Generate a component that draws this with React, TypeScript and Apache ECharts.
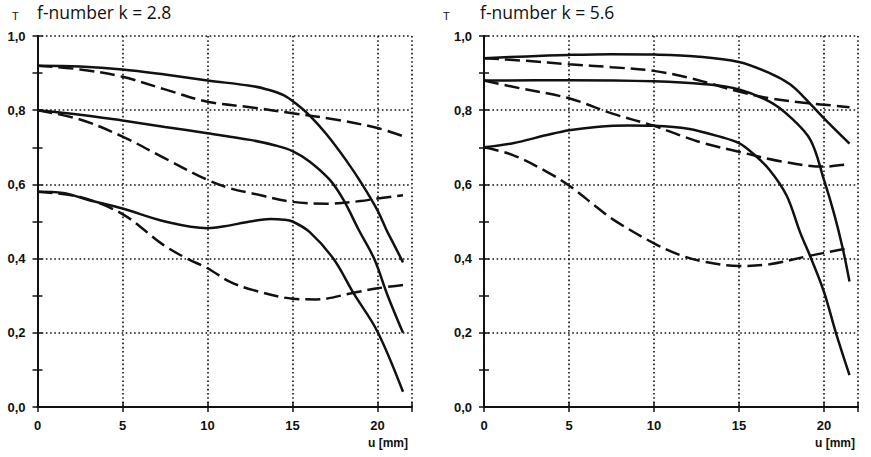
import React, { useEffect, useRef } from "react";
import * as echarts from "echarts";

// ---- data (u in mm, T) ----
const leftTitle = "f-number k = 2.8";
const rightTitle = "f-number k = 5.6";
const xTicks = [0, 5, 10, 15, 20];
const yTicks = [0, 0.2, 0.4, 0.6, 0.8, 1.0];

// k = 2.8
const leftSolid1 = [[0, 0.92], [2.5, 0.918], [5, 0.91], [7.5, 0.896], [10, 0.88], [12.5, 0.866], [13.5, 0.856], [14.5, 0.84], [15.2, 0.818], [16, 0.786], [17, 0.735], [18.2, 0.662], [19.1, 0.6], [20, 0.53], [20.5, 0.48], [21, 0.435], [21.5, 0.39]];
const leftDash1 = [[0, 0.92], [2.5, 0.91], [5, 0.89], [7.5, 0.856], [10, 0.823], [12.5, 0.808], [15, 0.792], [17.5, 0.775], [20, 0.752], [21.5, 0.73]];
const leftSolid2 = [[0, 0.8], [2.5, 0.788], [5, 0.772], [7.5, 0.755], [10, 0.738], [12.5, 0.72], [14, 0.705], [15, 0.69], [16, 0.662], [17.2, 0.612], [18, 0.558], [18.9, 0.477], [19.8, 0.4], [20.6, 0.3], [21.5, 0.2]];
const leftDash2 = [[0, 0.8], [2.5, 0.775], [5, 0.729], [7.5, 0.67], [10, 0.612], [11.3, 0.59], [12.7, 0.575], [15, 0.553], [17, 0.548], [19, 0.555], [20, 0.562], [21.5, 0.571]];
const leftSolid3 = [[0, 0.58], [1.5, 0.577], [3, 0.558], [5, 0.535], [7.5, 0.5], [10, 0.482], [11, 0.487], [12.5, 0.5], [13.7, 0.507], [14.5, 0.505], [15, 0.5], [16, 0.472], [17.4, 0.4], [18.6, 0.306], [20, 0.203], [21.5, 0.041]];
const leftDash3 = [[0, 0.58], [2.5, 0.566], [5, 0.52], [7.4, 0.437], [8.8, 0.4], [10, 0.374], [11.3, 0.338], [12.7, 0.315], [15, 0.292], [16.4, 0.29], [18.6, 0.308], [20, 0.32], [21.5, 0.329]];

// k = 5.6
const rightSolidA = [[0, 0.94], [2.5, 0.945], [5, 0.949], [7.5, 0.951], [10, 0.95], [12.5, 0.945], [15, 0.93], [16.8, 0.9], [18, 0.87], [18.8, 0.836], [20, 0.778], [21.5, 0.71]];
const rightDashA = [[0, 0.94], [2.5, 0.933], [5, 0.924], [7.5, 0.916], [10, 0.906], [12, 0.888], [13, 0.876], [15, 0.85], [16.8, 0.832], [18.8, 0.82], [20, 0.815], [21.5, 0.808]];
const rightSolidB = [[0, 0.88], [5, 0.881], [10, 0.878], [13, 0.87], [15, 0.856], [16.8, 0.823], [18, 0.782], [19.2, 0.72], [20, 0.612], [20.6, 0.52], [21.1, 0.428], [21.5, 0.338]];
const rightDashB = [[0, 0.88], [1.7, 0.863], [5, 0.832], [7.6, 0.79], [10, 0.758], [11.5, 0.733], [13, 0.71], [15, 0.688], [17.5, 0.662], [20, 0.648], [21, 0.652], [21.5, 0.658]];
const rightSolidC = [[0, 0.7], [1.7, 0.711], [3.7, 0.733], [5, 0.746], [6.6, 0.755], [8.5, 0.759], [10, 0.758], [12, 0.75], [14, 0.727], [15, 0.711], [15.8, 0.684], [16.8, 0.639], [17.8, 0.57], [18.6, 0.47], [19.2, 0.405], [20, 0.31], [20.7, 0.2], [21.5, 0.086]];
const rightDashC = [[0, 0.7], [1.7, 0.679], [3.7, 0.634], [5, 0.597], [6.6, 0.54], [7.6, 0.505], [10, 0.441], [11.5, 0.41], [12.9, 0.392], [15, 0.38], [16.8, 0.385], [19.2, 0.408], [21.1, 0.425], [21.5, 0.428]];

const INK = "#111";
const LABEL_FONT = "Liberation Sans";
const TITLE_FONT = "Open Sans";

function xAxisDef(gridIndex: number, position: "bottom" | "top") {
  const bottom = position === "bottom";
  return {
    type: "value",
    gridIndex,
    position,
    min: 0,
    max: 22,
    interval: 5,
    axisLine: { show: true, lineStyle: { color: INK, width: 2 } },
    axisTick: { show: true, inside: true, length: 5, lineStyle: { color: INK, width: 1.5 } },
    axisLabel: {
      show: bottom,
      margin: 12,
      color: INK,
      fontFamily: LABEL_FONT,
      fontWeight: "bold",
      fontSize: 13,
      formatter: (v: number) => (xTicks.includes(v) ? String(v) : ""),
    },
    splitLine: bottom
      ? { show: true, lineStyle: { color: INK, width: 1.6, type: [1.6, 2.6] } }
      : { show: false },
  };
}

function yAxisDef(gridIndex: number, position: "left" | "right") {
  const left = position === "left";
  return {
    type: "value",
    gridIndex,
    position,
    min: 0,
    max: 1,
    interval: 0.2,
    axisLine: { show: true, lineStyle: { color: INK, width: 2 } },
    axisTick: { show: true, inside: true, length: 5, lineStyle: { color: INK, width: 1.5 } },
    minorTick: { show: true, splitNumber: 2, length: 5, lineStyle: { color: INK, width: 1.5 } },
    minorSplitLine: { show: false },
    axisLabel: {
      show: left,
      margin: 12,
      color: INK,
      fontFamily: LABEL_FONT,
      fontWeight: "bold",
      fontSize: 13,
      formatter: (v: number) => {
        const t = yTicks.find((y) => Math.abs(y - v) < 1e-6);
        return t === undefined ? "" : t.toFixed(1).replace(".", ",");
      },
    },
    splitLine: left
      ? { show: true, lineStyle: { color: INK, width: 1.6, type: [1.6, 2.6] } }
      : { show: false },
  };
}

function line(data: number[][], dashed: boolean, axis: number) {
  return {
    type: "line",
    xAxisIndex: axis,
    yAxisIndex: axis,
    data,
    smooth: 0.35,
    showSymbol: false,
    symbol: "none",
    lineStyle: { color: INK, width: 2.5, type: dashed ? [15, 6] : "solid" },
    z: 5,
  };
}

export default function App() {
  const ref = useRef<HTMLDivElement>(null);
  useEffect(() => {
    if (!ref.current) return;
    const chart = echarts.init(ref.current, undefined, { renderer: "svg" });
    const titleBlock = (xT: number, xTitle: number, text: string) => [
      {
        type: "text",
        left: xT,
        top: 10,
        style: { text: "T", fontFamily: LABEL_FONT, fontSize: 11, fill: INK },
      },
      {
        type: "text",
        left: xTitle,
        top: 3,
        style: { text, fontFamily: TITLE_FONT, fontSize: 17.5, fill: INK },
      },
    ];
    const unitLabel = (right: number) => ({
      type: "text",
      right,
      top: 437,
      style: { text: "u [mm]", fontFamily: LABEL_FONT, fontWeight: "bold", fontSize: 12, fill: INK },
    });
    chart.setOption({
      animation: false,
      backgroundColor: "#fff",
      grid: [
        { left: 37.5, top: 36, width: 374, height: 371, show: false },
        { left: 484, top: 36, width: 374, height: 371, show: false },
      ],
      xAxis: [xAxisDef(0, "bottom"), xAxisDef(0, "top"), xAxisDef(1, "bottom"), xAxisDef(1, "top")],
      yAxis: [yAxisDef(0, "left"), yAxisDef(0, "right"), yAxisDef(1, "left"), yAxisDef(1, "right")],
      series: [
        line(leftSolid1, false, 0),
        line(leftDash1, true, 0),
        line(leftSolid2, false, 0),
        line(leftDash2, true, 0),
        line(leftSolid3, false, 0),
        line(leftDash3, true, 0),
        { ...line(rightSolidA, false, 2), yAxisIndex: 2 },
        { ...line(rightDashA, true, 2), yAxisIndex: 2 },
        { ...line(rightSolidB, false, 2), yAxisIndex: 2 },
        { ...line(rightDashB, true, 2), yAxisIndex: 2 },
        { ...line(rightSolidC, false, 2), yAxisIndex: 2 },
        { ...line(rightDashC, true, 2), yAxisIndex: 2 },
      ],
      graphic: [
        ...titleBlock(12, 37, leftTitle),
        ...titleBlock(443, 480, rightTitle),
        unitLabel(463),
        unitLabel(16),
      ],
    });
    return () => chart.dispose();
  }, []);
  return (
    <div
      ref={ref}
      style={{ position: "fixed", left: 0, top: 0, width: 871, height: 457, background: "#fff" }}
    />
  );
}
